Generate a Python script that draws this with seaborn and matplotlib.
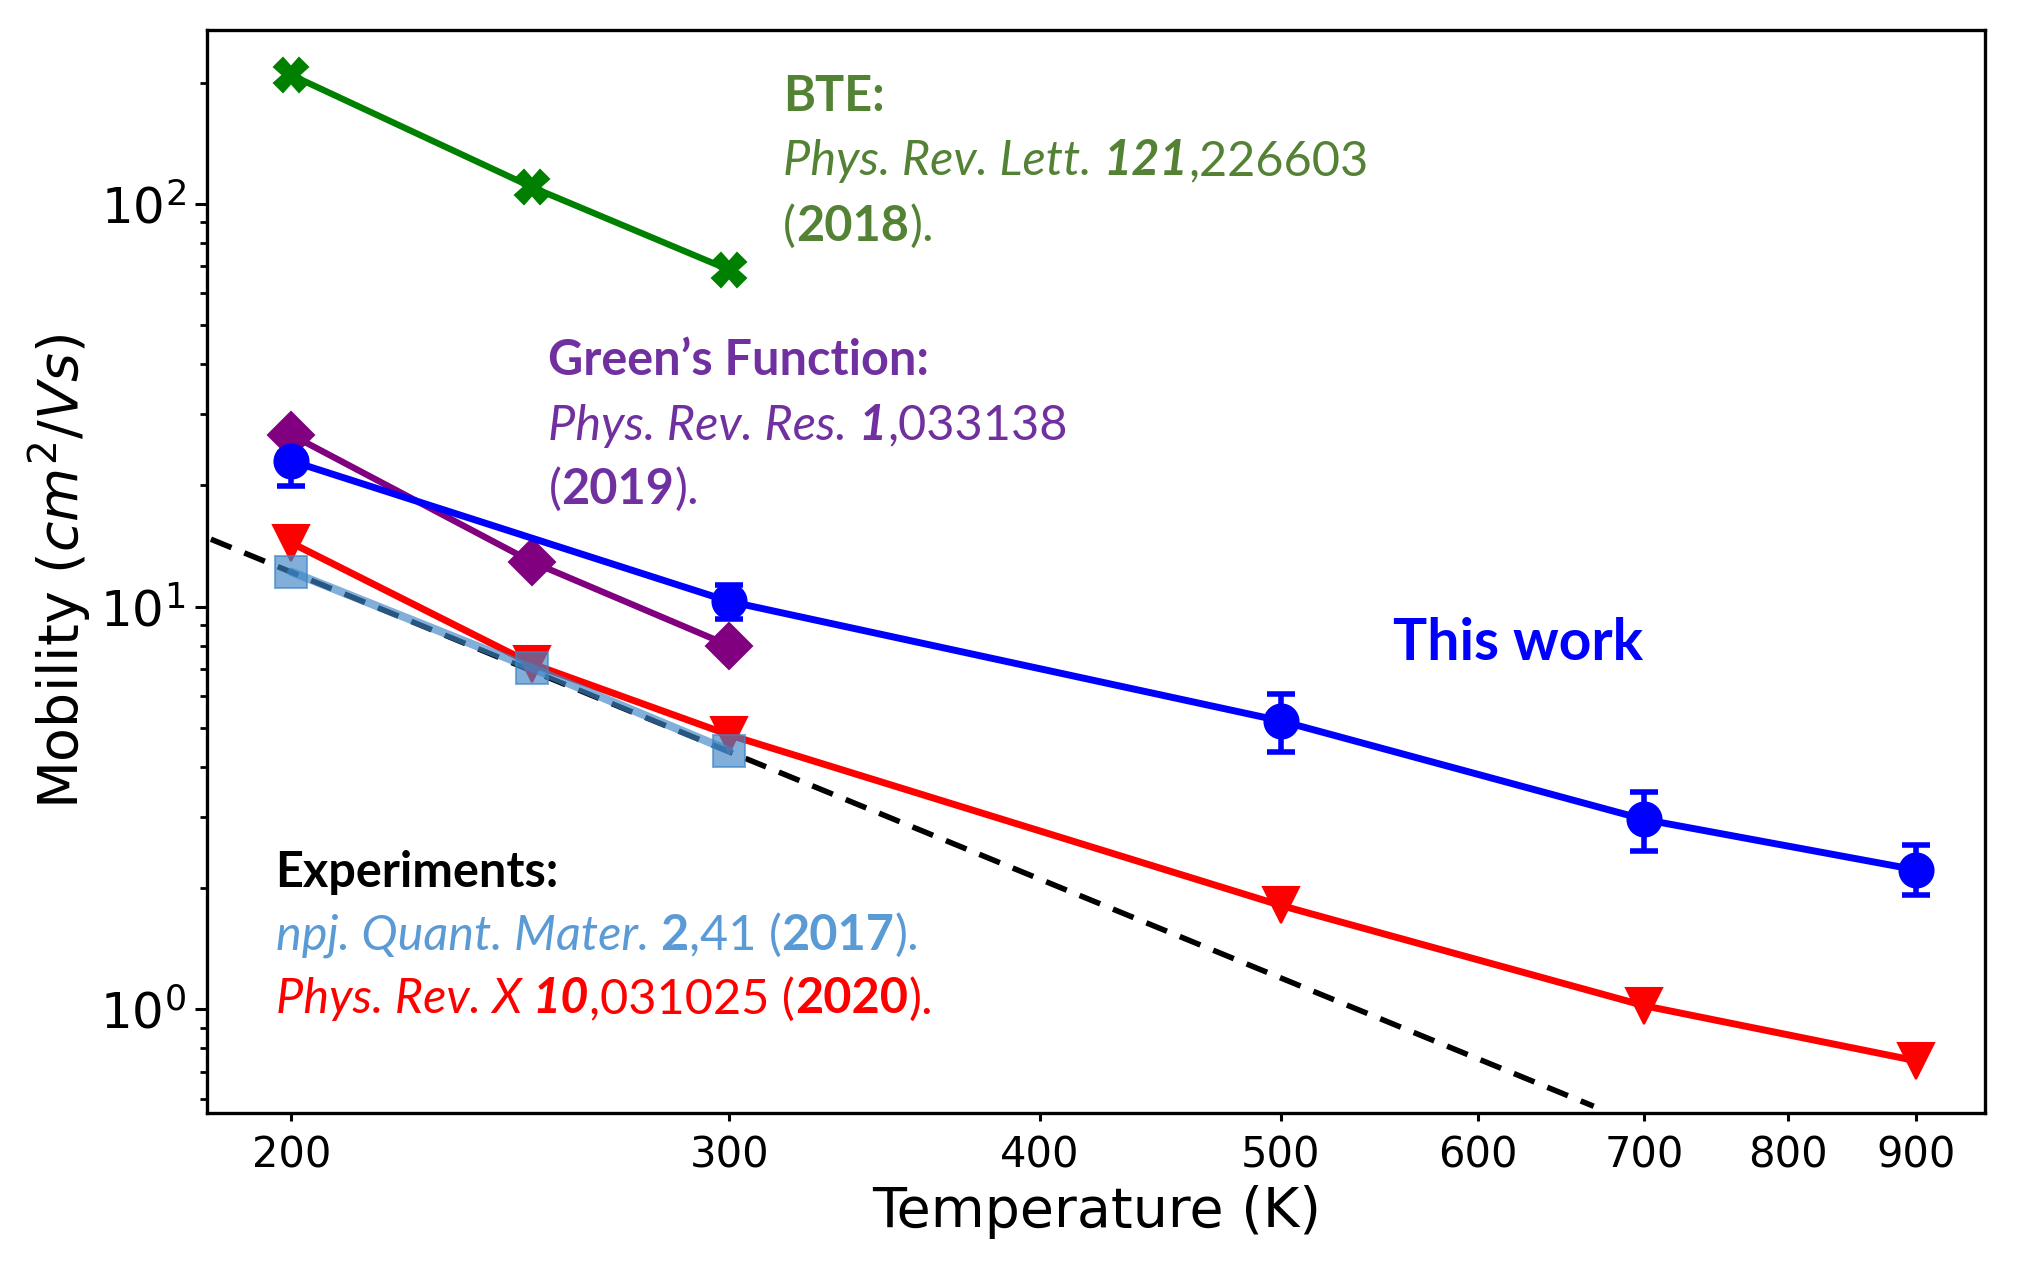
import numpy as np
import pandas as pd
import matplotlib
matplotlib.use("Agg")
import matplotlib.pyplot as plt
import matplotlib.ticker as mticker
import seaborn as sns

# data
temp_this = [200, 300, 500, 700, 900]
mu_this = [23.0, 10.3, 5.2, 2.96, 2.22]
err_lo = [3.1, 1.0, 0.85, 0.49, 0.30]
err_hi = [1.0, 1.0, 0.86, 0.50, 0.34]

temp_bte = [200, 250, 300]
mu_bte = [209, 110, 68.6]

temp_gf = [200, 250, 300]
mu_gf = [26.7, 12.9, 8.0]

temp_prx = [200, 250, 300, 500, 700, 900]
mu_prx = [14.4, 7.2, 4.8, 1.81, 1.02, 0.745]

temp_npj = [200, 250, 300]
mu_npj = [12.2, 7.03, 4.39]

# dashed guide line (end points)
temp_guide = [180, 668]
mu_guide = [15.9, 0.574]

x_ticks = [200, 300, 400, 500, 600, 700, 800, 900]

sns.set_style("ticks", {"axes.edgecolor": "black", "xtick.color": "black",
                        "ytick.color": "black", "text.color": "black",
                        "axes.labelcolor": "black"})
plt.rcParams["font.family"] = ["DejaVu Sans"]
plt.rcParams["mathtext.fontset"] = "dejavusans"
note_font = ["Lato", "DejaVu Sans"]

fig, ax = plt.subplots(figsize=(10.15, 6.31), dpi=200)
fig.subplots_adjust(left=0.102, right=0.978, top=0.976, bottom=0.118)

ax.set_xscale("log")
ax.set_yscale("log")

ax.plot(temp_guide, mu_guide, color="black", linestyle=(0, (4, 2.5)), linewidth=2, zorder=2)

sns.lineplot(x=temp_bte, y=mu_bte, ax=ax, color="green", marker="X", markersize=12,
             markeredgecolor="green", linewidth=2.3, zorder=3)
sns.lineplot(x=temp_gf, y=mu_gf, ax=ax, color="purple", marker="D", markersize=11.5,
             markeredgecolor="purple", linewidth=2.3, zorder=3)
sns.lineplot(x=temp_prx, y=mu_prx, ax=ax, color="red", marker="v", markersize=13,
             markeredgecolor="red", linewidth=2.5, zorder=3)
sns.lineplot(x=temp_npj, y=mu_npj, ax=ax, color="#3D85C6", marker="s", markersize=11.5,
             markeredgecolor="#3D85C6", linewidth=3, alpha=0.65, zorder=4)

ax.errorbar(temp_this, mu_this, yerr=[err_lo, err_hi], color="blue", marker="o",
            markersize=12, linewidth=2.5, capsize=5, capthick=2, elinewidth=2, zorder=5)

ax.set_xlim(185, 960)
ax.set_ylim(0.552, 270)

ax.xaxis.set_major_locator(mticker.FixedLocator(x_ticks))
ax.xaxis.set_major_formatter(mticker.FixedFormatter([str(t) for t in x_ticks]))
ax.xaxis.set_minor_locator(mticker.NullLocator())

ax.tick_params(axis="x", which="major", labelsize=15, length=2.8, width=1.1, pad=5)
ax.tick_params(axis="y", which="major", labelsize=18, length=4.2, width=1.1)
ax.tick_params(axis="y", which="minor", length=2.6, width=1)
for sp in ax.spines.values():
    sp.set_linewidth(1.2)

ax.set_xlabel("Temperature (K)", fontsize=20, labelpad=3)
ax.set_ylabel(r"Mobility $(cm^2/Vs)$", fontsize=20, labelpad=2)


def rich_line(x, y, parts, color, size=17.5):
    first = True
    prev = None
    for s, w, st in parts:
        if first:
            prev = ax.text(x, y, s, transform=ax.transAxes, color=color, fontsize=size,
                           fontweight=w, fontstyle=st, va="center", ha="left", family=note_font)
            first = False
        else:
            prev = ax.annotate(s, xy=(1, 0), xycoords=prev, color=color, fontsize=size,
                               fontweight=w, fontstyle=st, va="bottom", ha="left", family=note_font)


bte_col = "#548235"
rich_line(0.324, 0.939, [("BTE:", "bold", "normal")], bte_col)
rich_line(0.324, 0.879, [("Phys. Rev. Lett. ", "normal", "italic"), ("121", "bold", "italic"),
                         (",226603", "normal", "normal")], bte_col)
rich_line(0.324, 0.819, [("(", "normal", "normal"), ("2018", "bold", "normal"),
                         (").", "normal", "normal")], bte_col)

gf_col = "#7030A0"
rich_line(0.192, 0.695, [("Green\u2019s Function:", "bold", "normal")], gf_col)
rich_line(0.192, 0.635, [("Phys. Rev. Res. ", "normal", "italic"), ("1", "bold", "italic"),
                         (",033138", "normal", "normal")], gf_col)
rich_line(0.192, 0.576, [("(", "normal", "normal"), ("2019", "bold", "normal"),
                         (").", "normal", "normal")], gf_col)

rich_line(0.0385, 0.2225, [("Experiments:", "bold", "normal")], "black")
rich_line(0.0385, 0.164, [("npj. Quant. Mater. ", "normal", "italic"), ("2", "bold", "normal"),
                          (",41 (", "normal", "normal"), ("2017", "bold", "normal"),
                          (").", "normal", "normal")], "#5B9BD5")
rich_line(0.0385, 0.105, [("Phys. Rev. X ", "normal", "italic"), ("10", "bold", "italic"),
                          (",031025 (", "normal", "normal"), ("2020", "bold", "normal"),
                          (").", "normal", "normal")], "red")

ax.text(0.667, 0.434, "This work", transform=ax.transAxes, color="blue", fontsize=20.5,
        fontweight="bold", va="center", ha="left", family=note_font)

fig.savefig("out.png", dpi=200)
